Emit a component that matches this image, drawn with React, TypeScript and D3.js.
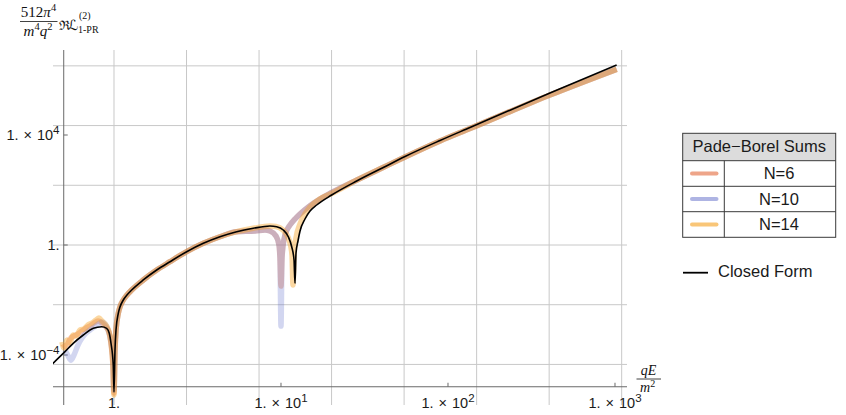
import React from "react";
import * as d3 from "d3";

// ---------- DATA ----------
const closedX = [0.425, 0.509, 0.570, 0.655, 0.752, 0.844, 0.904, 0.937, 0.959, 0.990, 1.0, 1.014, 1.028, 1.061, 1.086, 1.137, 1.196, 1.276, 1.497, 1.802, 2.165, 2.725, 3.427, 4.31, 5.43, 6.82, 8.59, 9.42, 10.32, 11.06, 11.59, 11.97, 12.13, 12.30, 12.64, 13.0, 13.92, 14.92, 16.36, 20.12, 28.4, 41.0, 55.3, 89.6, 135.5, 408, 1023];
const closedY = [4.59e-5, 1.32e-4, 2.66e-4, 5.33e-4, 9.35e-4, 1.07e-3, 9.35e-4, 6.15e-4, 2.73e-4, 4.33e-5, 4.5e-6, 1.52e-4, 8.1e-4, 3.28e-3, 5.56e-3, 1.0e-2, 1.52e-2, 2.31e-2, 5.34e-2, 0.123, 0.247, 0.571, 1.153, 2.0, 3.05, 4.05, 4.91, 4.63, 3.51, 2.0, 0.867, 0.285, 0.0405, 0.512, 1.40, 3.23, 8.82, 17.2, 28.5, 65.8, 212, 658, 1652, 6310, 18740, 3.37e5, 3.51e6];

const n6X = [0.495, 0.516, 0.545, 0.576, 0.609, 0.643, 0.680, 0.718, 0.759, 0.802, 0.847, 0.896, 0.933, 0.959, 0.986, 1.0, 1.014, 1.028, 1.061, 1.086, 1.137, 1.196, 1.276, 1.497, 1.802, 2.165, 2.725, 3.427, 4.31, 5.43, 6.99, 8.02, 8.59, 9.33, 9.73, 9.86, 10.0, 10.14, 10.28, 10.57, 11.01, 11.32, 12.13, 13.0, 14.92, 17.1, 20.12, 28.5, 40.8, 55.3, 89.6, 135.5, 408, 1023];
const n6Y = [2.51e-4, 1.95e-4, 3.82e-4, 4.91e-4, 5.80e-4, 7.46e-4, 9.59e-4, 1.13e-3, 1.46e-3, 1.72e-3, 1.46e-3, 1.04e-3, 6.86e-4, 2.73e-4, 3.98e-5, 4.15e-6, 1.52e-4, 8.1e-4, 3.28e-3, 5.56e-3, 1.0e-2, 1.52e-2, 2.31e-2, 5.34e-2, 0.123, 0.247, 0.571, 1.153, 2.0, 3.05, 3.23, 3.51, 3.23, 2.12, 1.0, 0.337, 0.0323, 0.337, 0.920, 2.31, 4.15, 5.34, 8.82, 13.4, 27.0, 47.1, 81, 231, 658, 1585, 6050, 17220, 2.85e5, 2.45e6];

const n10X = [0.509, 0.530, 0.553, 0.576, 0.609, 0.643, 0.680, 0.718, 0.759, 0.802, 0.847, 0.883, 0.921, 0.959, 0.986, 1.0, 1.014, 1.028, 1.061, 1.086, 1.137, 1.196, 1.276, 1.497, 1.802, 2.165, 2.725, 3.427, 4.31, 5.43, 6.99, 8.02, 8.59, 9.33, 9.73, 9.86, 10.0, 10.14, 10.28, 10.57, 11.01, 11.32, 12.13, 13.0, 14.92, 17.1, 20.12, 28.5, 40.8, 55.3, 89.6, 135.5, 408, 1023];
const n10Y = [1.52e-4, 9.5e-5, 6.5e-5, 1.0e-4, 2.31e-4, 4.15e-4, 6.31e-4, 8.11e-4, 1.04e-3, 1.34e-3, 1.58e-3, 1.34e-3, 8.11e-4, 2.97e-4, 5.56e-5, 5.33e-6, 1.52e-4, 8.1e-4, 3.28e-3, 5.56e-3, 1.0e-2, 1.52e-2, 2.31e-2, 5.34e-2, 0.123, 0.247, 0.571, 1.153, 2.0, 3.05, 3.23, 3.51, 3.23, 2.12, 1.0, 0.337, 1.13e-3, 0.337, 0.920, 2.31, 4.15, 5.34, 8.82, 13.4, 27.0, 47.1, 81, 231, 658, 1585, 6050, 17220, 2.85e5, 2.45e6];

const n14X = [0.488, 0.502, 0.523, 0.545, 0.568, 0.592, 0.626, 0.661, 0.699, 0.738, 0.780, 0.813, 0.847, 0.883, 0.921, 0.959, 0.986, 1.0, 1.014, 1.028, 1.061, 1.086, 1.137, 1.196, 1.276, 1.497, 1.802, 2.165, 2.725, 3.427, 4.31, 5.43, 6.82, 8.59, 9.33, 10.28, 11.01, 11.40, 11.64, 11.80, 11.97, 12.30, 13.0, 13.92, 14.92, 17.1, 20.12, 28.5, 40.8, 55.3, 89.6, 135.5, 408, 1023];
const n14Y = [2.97e-4, 1.80e-4, 3.51e-4, 2.73e-4, 5.33e-4, 4.91e-4, 8.11e-4, 8.82e-4, 1.23e-3, 1.46e-3, 1.87e-3, 2.21e-3, 1.72e-3, 1.34e-3, 8.82e-4, 2.97e-4, 3.98e-5, 3.51e-6, 1.52e-4, 8.1e-4, 3.28e-3, 5.56e-3, 1.0e-2, 1.52e-2, 2.31e-2, 5.34e-2, 0.123, 0.247, 0.571, 1.153, 2.0, 3.05, 4.05, 4.91, 4.71, 3.51, 1.95, 1.0, 0.433, 0.0351, 0.433, 1.80, 5.80, 13.4, 24.1, 47.1, 75, 231, 658, 1585, 6050, 17220, 2.85e5, 2.45e6];

const seriesNames = ["N=6", "N=10", "N=14"];
const seriesColors = ["#E2693A", "#5E6AC8", "#F5A01E"];
const seriesOpacity = [0.36, 0.28, 0.42];
const legendOpacity = [0.6, 0.5, 0.6];

const xTickValues = [1, 10, 100, 1000];
const xTickExp = ["", "1", "2", "3"];
const yTickValues = [1e-4, 1, 1e4];
const yTickExp = ["-4", "", "4"];
const xGridExps = [0, 1, 2, 3, 4, 5, 6, 7];
const yGridExps = [-10, -5, 0, 5, 10, 15];

// ---------- LAYOUT ----------
const W = 846, H = 415;
const L = 53, R = 627, T = 50, B = 405;
const xAxisValue = 7.0e-6;
const yAxisValue = 0.5;

const TickLabel = ({ exp, x, y, anchor }: { exp: string; x: number; y: number; anchor: string }) => (
  <text x={x} y={y} textAnchor={anchor} fontFamily="Liberation Sans, Arial, sans-serif" fontSize={14.5} fill="#1a1a1a">
    {exp === "" ? "1." : (
      <>
        <tspan>1.</tspan>
        <tspan dx={5}>×</tspan>
        <tspan dx={5}>10</tspan>
        <tspan dy={-6} fontSize={11.5}>{exp.replace("-", "\u2212")}</tspan>
      </>
    )}
  </text>
);

export default function App() {
  const x = d3.scaleLog().domain([0.4313, 1180]).range([L, R]);
  const y = d3.scaleLog().domain([1.52e-6, 1.233e7]).range([B, T]);
  const line = d3
    .line<[number, number]>()
    .x((d) => x(d[0]))
    .y((d) => y(d[1]))
    .curve(d3.curveMonotoneX);

  const zip = (xs: number[], ys: number[]) => xs.map((v, i) => [v, ys[i]] as [number, number]);
  const series = [zip(n6X, n6Y), zip(n10X, n10Y), zip(n14X, n14Y)];
  const closed = zip(closedX, closedY);

  const xa = x(yAxisValue);
  const ya = y(xAxisValue);

  const legX = 682.7, legR = 835.7, legT = 133.3, divX = 724.3;
  const rowEdges = [133.3, 160.7, 186.3, 211.7, 237.3];

  return (
    <svg width={W} height={H} style={{ position: "absolute", left: 0, top: 0, background: "#fff" }}>
      <defs>
        <clipPath id="plotclip">
          <rect x={L} y={T} width={R - L} height={B - T} />
        </clipPath>
      </defs>
      {/* grid */}
      {xGridExps.map((k) => (
        <line key={"gx" + k} x1={x(Math.exp(k))} x2={x(Math.exp(k))} y1={T} y2={B} stroke="#c8c8c8" strokeWidth={1} />
      ))}
      {yGridExps.map((k) => (
        <line key={"gy" + k} x1={L} x2={R} y1={y(Math.exp(k))} y2={y(Math.exp(k))} stroke="#c8c8c8" strokeWidth={1} />
      ))}
      {/* axes */}
      <line x1={L} x2={R} y1={ya} y2={ya} stroke="#6a6a6a" strokeWidth={1} />
      <line x1={xa} x2={xa} y1={T} y2={B} stroke="#6a6a6a" strokeWidth={1} />
      {xTickValues.map((v) => (
        <line key={"xt" + v} x1={x(v)} x2={x(v)} y1={ya} y2={ya - 4} stroke="#6a6a6a" />
      ))}
      {yTickValues.map((v) => (
        <line key={"yt" + v} x1={xa} x2={xa + 4} y1={y(v)} y2={y(v)} stroke="#6a6a6a" />
      ))}
      {xTickValues.map((v, i) => (
        <TickLabel key={"xl" + v} exp={xTickExp[i]} x={x(v)} y={408} anchor="middle" />
      ))}
      {yTickValues.map((v, i) => (
        <TickLabel key={"yl" + v} exp={yTickExp[i]} x={59.5} y={y(v) + 5} anchor="end" />
      ))}
      {/* curves */}
      <g clipPath="url(#plotclip)">
        {series.map((s, i) => (
          <path key={seriesNames[i]} d={line(s) || ""} fill="none" stroke={seriesColors[i]} strokeOpacity={seriesOpacity[i]}
            strokeWidth={5.5} strokeLinejoin="round" />
        ))}
        <path d={line(closed) || ""} fill="none" stroke="#000" strokeWidth={1.6} strokeLinejoin="round" />
      </g>
      {/* y label */}
      <g fill="#111">
        <text x={38.5} y={17} textAnchor="middle" fontSize={15} fontFamily="Liberation Serif, serif">
          512<tspan fontStyle="italic">π</tspan><tspan dy={-6} fontSize={10.5}>4</tspan>
        </text>
        <line x1={20} x2={57.5} y1={21.5} y2={21.5} stroke="#111" strokeWidth={0.8} />
        <text x={38} y={36} textAnchor="middle" fontSize={15} fontFamily="Liberation Serif, serif">
          <tspan fontStyle="italic">m</tspan><tspan dy={-6} fontSize={10.5}>4</tspan><tspan dy={6} fontStyle="italic">q</tspan><tspan dy={-6} fontSize={10.5}>2</tspan>
        </text>
        <text x={58.5} y={29.5} fontSize={13} fontFamily="DejaVu Serif, serif">ℜ</text>
        <text x={68} y={29.5} fontSize={14} fontStyle="italic" fontFamily="DejaVu Sans, sans-serif">ℒ</text>
        <text x={79} y={19} fontSize={10} fontFamily="Liberation Serif, serif">(2)</text>
        <text x={78} y={32.5} fontSize={10} fontFamily="Liberation Serif, serif">1-PR</text>
      </g>
      {/* x label */}
      <g fontFamily="Liberation Serif, DejaVu Serif, serif" fill="#111">
        <text x={648.5} y={374.5} textAnchor="middle" fontSize={14} fontStyle="italic">qE</text>
        <line x1={636.5} x2={661} y1={379} y2={379} stroke="#111" strokeWidth={0.8} />
        <text x={640} y={392} fontSize={14}>
          <tspan fontStyle="italic">m</tspan><tspan dy={-5} fontSize={10}>2</tspan>
        </text>
      </g>
      {/* legend */}
      <g fontFamily="Liberation Sans, Arial, sans-serif" fill="#1a1a1a">
        <rect x={legX} y={legT} width={legR - legX} height={rowEdges[1] - legT} fill="#dcdcdc" />
        <rect x={legX} y={legT} width={legR - legX} height={rowEdges[4] - legT} fill="none" stroke="#3a3a3a" strokeWidth={1} />
        {rowEdges.slice(1, 4).map((ry) => (
          <line key={"r" + ry} x1={legX} x2={legR} y1={ry} y2={ry} stroke="#3a3a3a" strokeWidth={1} />
        ))}
        <line x1={divX} x2={divX} y1={rowEdges[1]} y2={rowEdges[4]} stroke="#3a3a3a" strokeWidth={1} />
        <text x={(legX + legR) / 2} y={152} textAnchor="middle" fontSize={16.5}>Pade−Borel Sums</text>
        {seriesNames.map((nm, i) => {
          const cy = (rowEdges[i + 1] + rowEdges[i + 2]) / 2;
          return (
            <g key={"leg" + nm}>
              <line x1={692} x2={716.5} y1={cy} y2={cy} stroke={seriesColors[i]} strokeOpacity={legendOpacity[i]} strokeWidth={4} strokeLinecap="round" />
              <text x={779} y={cy + 5.5} textAnchor="middle" fontSize={16.5}>{nm}</text>
            </g>
          );
        })}
        <line x1={683} x2={708} y1={272.7} y2={272.7} stroke="#000" strokeWidth={1.8} />
        <text x={718} y={277} fontSize={16.5}>Closed Form</text>
      </g>
    </svg>
  );
}
